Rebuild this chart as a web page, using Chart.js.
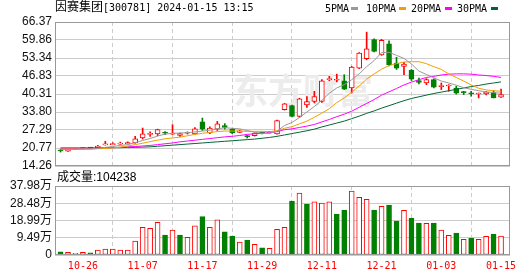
<!DOCTYPE html>
<html><head><meta charset="utf-8">
<script src="https://cdn.jsdelivr.net/npm/chart.js@4.4.1/dist/chart.umd.min.js"></script>
<style>
html,body{margin:0;padding:0;background:#fff;}
#wrap{position:relative;width:530px;height:276px;overflow:hidden;background:#fff;}
canvas{position:absolute;left:0;top:0;}
.t{position:absolute;white-space:nowrap;color:#000;line-height:12px;font-family:"Noto Sans CJK SC";font-size:12px;}
.mono{font-family:"DejaVu Sans Mono";font-size:10px;}
.sans{font-family:"Liberation Sans";font-size:12px;}
.sw{position:absolute;width:7px;height:3px;top:7px;}
</style></head><body>
<div id="wrap">
<canvas id="pc" width="530" height="276"></canvas>
<canvas id="vc" width="530" height="276"></canvas>
<div class="t" style="left:55px;top:0px">因赛集团<span class="mono">[300781] 2024-01-15 13:15</span></div>
<div class="t mono" style="left:325px;top:3px">5PMA</div><div class="sw" style="left:351px;background:#999999"></div>
<div class="t mono" style="left:366px;top:3px">10PMA</div><div class="sw" style="left:399px;background:#f0a000"></div>
<div class="t mono" style="left:411px;top:3px">20PMA</div><div class="sw" style="left:445px;background:#ff00ff"></div>
<div class="t mono" style="left:457px;top:3px">30PMA</div><div class="sw" style="left:491px;background:#006633"></div>
<div class="t" style="left:57px;top:170px">成交量<span class="sans">:104238</span></div>
</div>
<script>
const dates = ["10-23","10-24","10-25","10-26","10-27","10-30","10-31","11-01","11-02","11-03","11-06","11-07","11-08","11-09","11-10","11-13","11-14","11-15","11-16","11-17","11-20","11-21","11-22","11-23","11-24","11-27","11-28","11-29","11-30","12-01","12-04","12-05","12-06","12-07","12-08","12-11","12-12","12-13","12-14","12-15","12-18","12-19","12-20","12-21","12-22","12-25","12-26","12-27","12-28","12-29","01-02","01-03","01-04","01-05","01-08","01-09","01-10","01-11","01-12","01-15"];
const tickDates = ["10-26","11-07","11-17","11-29","12-11","12-21","01-03","01-15"];
const opens  = [19.9,19.6,20.3,20.5,20.8,20.9,21.9,22.0,22.2,22.3, 22.6,24.4,25.7,25.9,26.4,25.8,25.3,26.1,25.9,30.2, 26.2,27.6,28.9,27.6,26.4,25.1,25.2,26.3,26.2,25.9, 34.6,36.1,32.2,36.4,37.6,37.6,45.5,45.3,45.1,42.5, 49.7,53.1,60.0,54.5,58.5,51.5,50.3,48.9,45.2,44.3, 45.5,43.0,43.2,42.5,41.0,40.6,40.3,40.4,40.8,39.2];
const highs  = [20.3,20.0,20.7,21.0,20.9,21.7,23.2,22.7,22.9,23.0, 25.0,28.0,26.6,27.6,26.7,29.2,26.2,26.6,28.2,31.6, 28.4,30.4,29.6,27.9,27.2,25.3,26.3,26.5,26.8,30.9, 36.9,36.3,38.8,39.4,41.3,45.5,46.7,47.5,47.3,50.3, 55.3,62.7,60.3,60.1,59.6,53.6,51.8,49.2,46.1,45.9, 45.8,44.3,43.7,43.1,41.3,41.3,40.7,41.3,41.5,42.1];
const lows   = [19.3,19.5,20.2,20.4,20.5,20.8,21.8,21.9,22.1,22.2, 22.5,24.0,25.0,25.2,25.6,25.7,25.0,25.8,25.8,27.1, 26.0,27.1,27.6,26.0,26.3,24.4,25.1,25.9,26.1,25.8, 34.5,32.0,31.9,35.5,37.1,37.3,45.1,44.7,41.9,40.7, 49.5,52.7,55.5,54.3,50.5,49.2,47.3,45.2,44.0,43.7, 42.5,41.9,41.3,40.3,40.1,39.5,38.9,40.0,38.9,39.1];
const closes = [19.7,19.9,20.6,20.9,20.7,21.5,22.3,22.4,22.5,22.7, 24.1,25.9,26.0,27.4,26.1,26.2,26.0,26.4,27.7,27.6, 28.0,29.5,28.2,26.2,27.0,24.9,26.2,26.1,26.7,30.7, 36.8,32.2,38.6,37.6,39.4,45.1,45.8,45.6,42.1,50.1, 55.1,56.7,55.7,59.7,50.9,49.7,51.1,45.7,44.5,45.5, 42.8,43.4,43.5,40.6,40.8,40.4,40.5,41.0,38.9,40.1];
const volumes = [18000,15000,9000,15000,12000,27500,33000,33000,27500,27500, 77000,152000,147000,180000,110000,137600,110000,97000,160000,211000, 152000,193000,127000,104600,71500,82500,59000,40000,37000,141000, 152000,297000,341000,280000,292000,286000,292000,225600,247700,352000, 317000,306000,247700,268000,275000,187000,246000,203600,176000,174000, 176000,137600,108000,121000,86000,93500,86000,103000,115600,104238];
const ma5  = [20.2,20.2,20.3,20.4,20.4,20.6,21.0,21.3,21.7,22.0, 22.7,23.5,24.2,25.1,25.8,26.1,26.2,26.3,26.6,26.9, 27.2,27.7,28.1,27.9,27.7,27.1,26.5,26.1,26.1,26.9, 28.9,30.0,31.8,33.8,35.8,38.0,40.6,42.5,43.7,45.5, 47.6,50.2,52.4,55.3,55.4,54.3,53.2,51.2,48.6,47.4, 46.2,45.0,44.3,43.5,42.6,42.0,41.5,41.1,40.8,40.6];
const ma10 = [20.4,20.4,20.4,20.4,20.4,20.5,20.6,20.8,21.1,21.5, 22.0,22.5,23.1,23.6,24.1,24.4,24.7,25.2,25.7,26.1, 26.4,26.7,26.9,26.9,26.9,26.8,26.8,26.8,26.7,27.0, 27.9,28.5,29.5,30.5,31.9,33.4,35.0,37.2,38.9,41.0, 43.2,45.7,47.6,49.3,50.6,51.3,51.9,52.0,52.0,51.3, 50.2,49.2,47.6,46.3,45.0,43.6,42.4,41.8,41.5,41.3];
const ma20 = [20.5,20.5,20.5,20.5,20.6,20.7,20.8,20.9,21.0,21.2, 21.3,21.5,21.7,22.0,22.3,22.6,23.0,23.3,23.6,23.9, 24.2,24.5,24.8,25.0,25.3,25.7,25.9,26.1,26.3,26.7, 27.4,27.7,28.2,28.7,29.3,30.2,31.1,32.1,33.0,34.1, 35.5,36.9,38.3,39.9,41.1,42.3,43.6,44.6,45.5,46.3, 46.7,47.2,47.5,47.6,47.6,47.5,47.2,47.0,46.7,46.3];
const ma30 = [20.8,20.8,20.8,20.8,20.8,20.8,20.9,20.9,20.9,21.0, 21.0,21.1,21.2,21.4,21.6,21.8,22.0,22.2,22.4,22.6, 22.8,23.0,23.2,23.4,23.6,23.8,24.0,24.3,24.6,25.0, 25.5,26.0,26.5,27.0,27.6,28.4,29.1,29.8,30.5,31.4, 32.3,33.3,34.2,35.2,36.1,37.0,37.9,38.7,39.3,39.9, 40.5,41.0,41.5,42.0,42.5,43.0,43.4,43.9,44.3,44.7];
const priceTicks = [14.26,20.77,27.29,33.80,40.31,46.83,53.34,59.86,66.37];
const priceTickLabels = ["14.26","20.77","27.29","33.80","40.31","46.83","53.34","59.86","66.37"];
const volTicks = [0,94950,189900,284850,379800];
const volTickLabels = ["0","9.49万","18.99万","28.48万","37.98万"];

const RED = '#ff0000', GREEN = '#008000';
const isUp = closes.map((c,i) => c >= opens[i]);
const candleEdge = isUp.map(u => u ? RED : GREEN);
const candleFill = isUp.map(u => u ? '#ffffff' : GREEN);
const volUp = volumes.map((v,i) => i === 0 ? isUp[0] : closes[i] >= closes[i-1]);
const tickIdx = tickDates.map(d => dates.indexOf(d));

const framePlugin = {
  id: 'frame',
  afterDatasetsDraw(chart) {
    const {ctx, chartArea: a} = chart;
    ctx.save();
    ctx.strokeStyle = '#999999';
    ctx.lineWidth = 1;
    ctx.strokeRect(a.left + 0.5, a.top + 0.5, a.right - a.left - 1, a.bottom - a.top - 1);
    ctx.restore();
  }
};
const watermarkPlugin = {
  id: 'watermark',
  beforeDatasetsDraw(chart) {
    const ctx = chart.ctx;
    ctx.save();
    ctx.fillStyle = '#ececec';
    ctx.font = 'bold 35px "Noto Sans CJK SC"';
    ctx.textBaseline = 'middle';
    ctx.textAlign = 'left';
    ctx.fillText('东方财富', 233, 91);
    ctx.restore();
  }
};

function xScale(showLabels) {
  return {
    type: 'linear', min: -0.74, max: 60.2, bounds: 'data', offset: false,
    afterBuildTicks: s => { s.ticks = tickIdx.map(v => ({value: v})); },
    afterFit: s => { s.height = showLabels ? 21 : 0; },
    ticks: { display: showLabels, autoSkip: false, maxRotation: 0, padding: 5, color: RED,
             font: {family: '"DejaVu Sans Mono"', size: 10}, callback: v => dates[v] },
    grid: { color: '#cccccc', drawTicks: false, lineWidth: 1 },
    border: { display: false, dash: [4, 3] }
  };
}
function yScale(min, max, ticks, labels, family) {
  return {
    type: 'linear', min: min, max: max, bounds: 'data',
    afterBuildTicks: s => { s.ticks = ticks.map(v => ({value: v})); },
    afterFit: s => { s.width = 55; },
    ticks: { autoSkip: false, padding: 3, color: '#111111', font: {family: family, size: 12},
             callback: (v, i) => labels[i] },
    grid: { color: '#cccccc', drawTicks: false, lineWidth: 1 },
    border: { display: false }
  };
}
const line = (label, arr, color) => ({
  type: 'line', label: label, data: arr.map((v,i) => ({x: i, y: v})),
  borderColor: color, borderWidth: 1, pointRadius: 0, tension: 0, order: 1
});

new Chart(document.getElementById('pc'), {
  type: 'bar',
  data: { datasets: [
    { type: 'bar', label: 'wick', data: dates.map((d,i) => ({x: i, y: [lows[i], highs[i]]})),
      backgroundColor: candleEdge, borderWidth: 0, barThickness: 1, grouped: false, order: 3 },
    { type: 'bar', label: 'body', data: dates.map((d,i) => ({x: i, y: [opens[i], closes[i]]})),
      backgroundColor: candleFill, borderColor: candleEdge, borderWidth: 1, borderSkipped: false,
      barThickness: 5, grouped: false, minBarLength: 1, order: 2 },
    line('5PMA', ma5, '#999999'),
    line('10PMA', ma10, '#f0a000'),
    line('20PMA', ma20, '#ff00ff'),
    line('30PMA', ma30, '#006633')
  ]},
  options: {
    responsive: false, animation: false, devicePixelRatio: 1,
    layout: { padding: {top: 22, right: 20, bottom: 110, left: 0} },
    plugins: { legend: {display: false}, tooltip: {enabled: false} },
    scales: { x: xScale(false), y: yScale(14.26, 66.37, priceTicks, priceTickLabels, '"Liberation Sans"') }
  },
  plugins: [watermarkPlugin, framePlugin]
});

new Chart(document.getElementById('vc'), {
  type: 'bar',
  data: { datasets: [
    { type: 'bar', label: 'volume', data: volumes.map((v,i) => ({x: i, y: v})),
      backgroundColor: volUp.map(u => u ? '#ffffff' : GREEN), borderColor: volUp.map(u => u ? RED : GREEN),
      borderWidth: 1, borderSkipped: false, barThickness: 5, grouped: false }
  ]},
  options: {
    responsive: false, animation: false, devicePixelRatio: 1,
    layout: { padding: {top: 186, right: 20, bottom: 0, left: 0} },
    plugins: { legend: {display: false}, tooltip: {enabled: false} },
    scales: { x: xScale(true), y: yScale(0, 379800, volTicks, volTickLabels, '"Liberation Sans Narrow", "Liberation Sans", "Noto Sans CJK SC"') }
  },
  plugins: [framePlugin]
});
</script>
</body></html>
